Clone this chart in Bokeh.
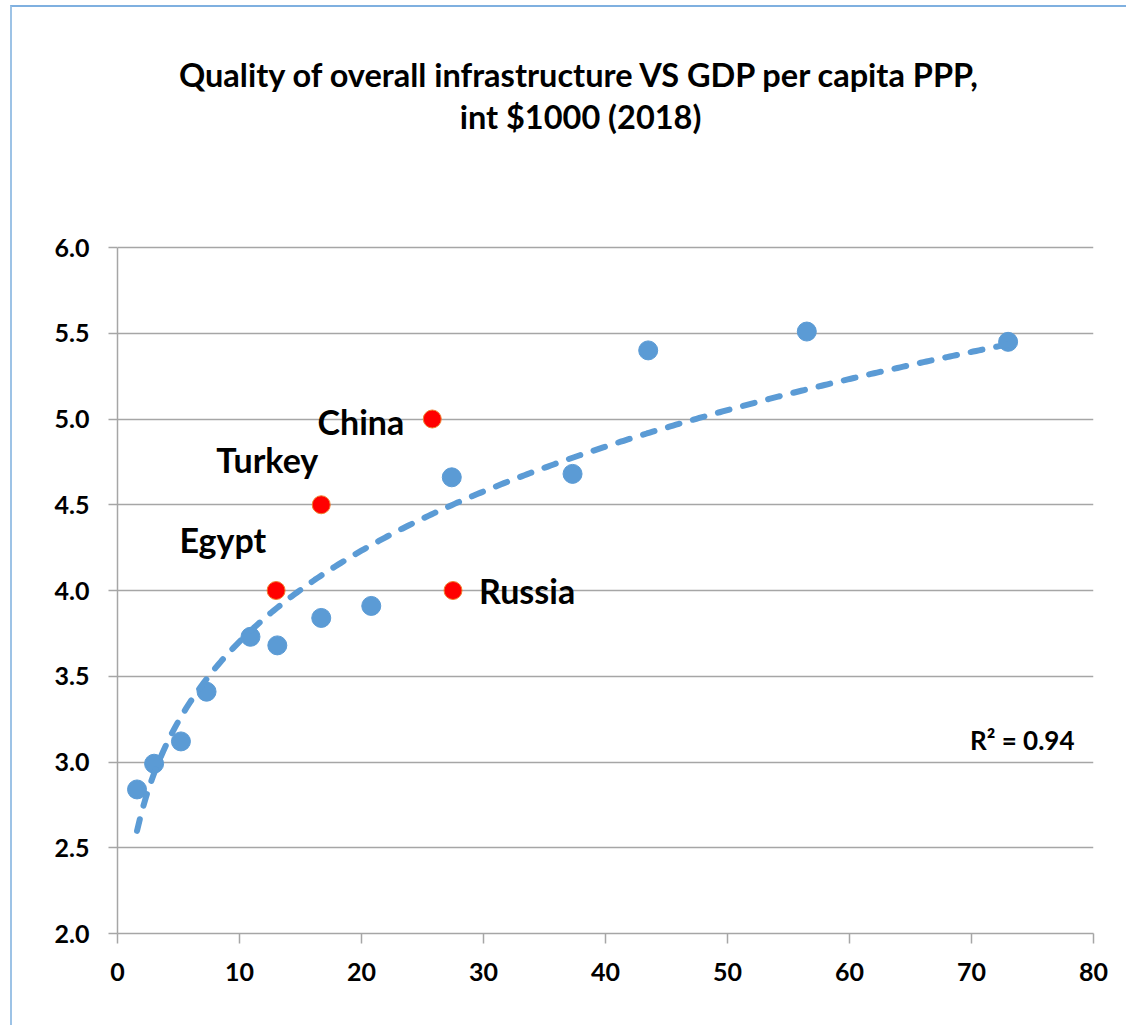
import numpy as np
from bokeh.plotting import figure
from bokeh.models import Range1d, FixedTicker, NumeralTickFormatter, Label
from bokeh.embed import file_html
from bokeh.resources import INLINE

# ---------------- data ----------------
title_lines = ["Quality of overall infrastructure VS GDP per capita PPP,", "int $1000 (2018)"]

gdp_blue = [1.6, 3.0, 5.2, 7.3, 10.9, 13.1, 16.7, 20.8, 27.4, 37.3, 43.5, 56.5, 73.0]
infra_blue = [2.84, 2.99, 3.12, 3.41, 3.73, 3.68, 3.84, 3.91, 4.66, 4.68, 5.40, 5.51, 5.45]

countries = ["Egypt", "Turkey", "China", "Russia"]
gdp_red = [13.0, 16.7, 25.8, 27.5]
infra_red = [4.0, 4.5, 5.0, 4.0]

x_ticks = [0, 10, 20, 30, 40, 50, 60, 70, 80]
y_ticks = [2.0, 2.5, 3.0, 3.5, 4.0, 4.5, 5.0, 5.5, 6.0]
r2_text = "R² = 0.94"

# ---------------- layout ----------------
OX, OY = 12, 7                     # page position of canvas origin
W, H = 1116, 1020
FL, FR, FB = 117 - OX, 1093 - OX, 933 - OY   # frame edges in canvas px
Y6 = 247 - OY                     # canvas px of the top y tick
XMIN, XMAX, YMIN, YMAX = x_ticks[0], x_ticks[-1], y_ticks[0], y_ticks[-1]
XPP = (XMAX - XMIN) / (FR - FL)   # data per px
YPP = (YMAX - YMIN) / (FB - Y6)
YTOP = YMAX + Y6 * YPP            # frame reaches the top of the canvas (room for the title)
TXT_SHIFT = 12                    # px: renderer places text baselines this much lower


def px_x(page_x):
    return XMIN + (page_x - OX - FL) * XPP


def px_y(page_y):
    return YTOP - (page_y - OY - TXT_SHIFT) * YPP


FONT = "Lato"
GRID = "#A6A6A6"
BLUE = "#5B9BD5"

p = figure(width=W, height=H, x_range=Range1d(XMIN, XMAX), y_range=Range1d(YMIN, YTOP),
           output_backend="svg", toolbar_location=None,
           min_border_left=FL, min_border_right=W - FR, min_border_top=0, min_border_bottom=H - FB)
p.styles = {"margin-left": "%dpx" % (OX - 2), "margin-top": "%dpx" % (OY - 2),
            "border-left": "2px solid #9DC3E6", "border-top": "2px solid #7FB0E0"}
p.outline_line_color = None
p.background_fill_color = "white"
p.border_fill_color = "white"

p.xgrid.visible = False
p.ygrid.grid_line_color = GRID
p.ygrid.grid_line_width = 1.5

for ax in (p.xaxis[0], p.yaxis[0]):
    ax.axis_line_color = GRID
    ax.axis_line_width = 1.5
    ax.major_tick_line_color = GRID
    ax.major_tick_line_width = 1.5
    ax.major_tick_in = 0
    ax.minor_tick_line_color = None
    ax.major_label_text_font = FONT
    ax.major_label_text_font_style = "bold"
    ax.major_label_text_font_size = "25px"
    ax.major_label_text_color = "black"

p.xaxis.ticker = FixedTicker(ticks=x_ticks)
p.yaxis.ticker = FixedTicker(ticks=y_ticks)
p.ygrid.ticker = FixedTicker(ticks=y_ticks)
p.yaxis.bounds = (YMIN, YMAX)
p.yaxis.formatter = NumeralTickFormatter(format="0.0")
p.xaxis.major_tick_out = 10
p.xaxis.major_label_standoff = 19
p.yaxis.major_tick_out = 9
p.yaxis.major_label_standoff = 19

# blue points
p.scatter(gdp_blue, infra_blue, size=19, fill_color=BLUE, line_color=BLUE)

# power trendline fitted on blue points
coef = np.polyfit(np.log(gdp_blue), np.log(infra_blue), 1)
xs = np.linspace(min(gdp_blue), max(gdp_blue), 300)
ys = np.exp(coef[1]) * xs ** coef[0]
p.line(xs, ys, line_color=BLUE, line_width=6, line_dash="12 14", line_cap="round")

# red points
p.scatter(gdp_red, infra_red, size=18, fill_color="#FF0000", line_color="#F08030", line_width=1)

# country labels (pixel offsets from their points)
off_px = {"Egypt": (-10, 39, "right"), "Turkey": (-3, 33, "right"),
          "China": (-28, -14, "right"), "Russia": (26, -12, "left")}
for name, gx, gy in zip(countries, gdp_red, infra_red):
    dxp, dyp, al = off_px[name]
    p.add_layout(Label(x=gx + dxp * XPP, y=gy + (dyp + TXT_SHIFT) * YPP, text=name, text_align=al,
                       text_baseline="alphabetic", text_font=FONT, text_font_style="bold",
                       text_font_size="34px", text_color="black"))

# R² label
p.add_layout(Label(x=px_x(1074), y=px_y(751), text=r2_text,
                   text_align="right", text_baseline="alphabetic", text_font=FONT,
                   text_font_style="bold", text_font_size="26px", text_color="black"))

# title lines
for line, base in zip(title_lines, (86, 128)):
    p.add_layout(Label(x=px_x(580), y=px_y(base), text=line, text_align="center",
                       text_baseline="alphabetic", text_font=FONT, text_font_style="bold",
                       text_font_size="32.5px", text_color="black"))

open("out.html", "w").write(file_html(p, INLINE))
